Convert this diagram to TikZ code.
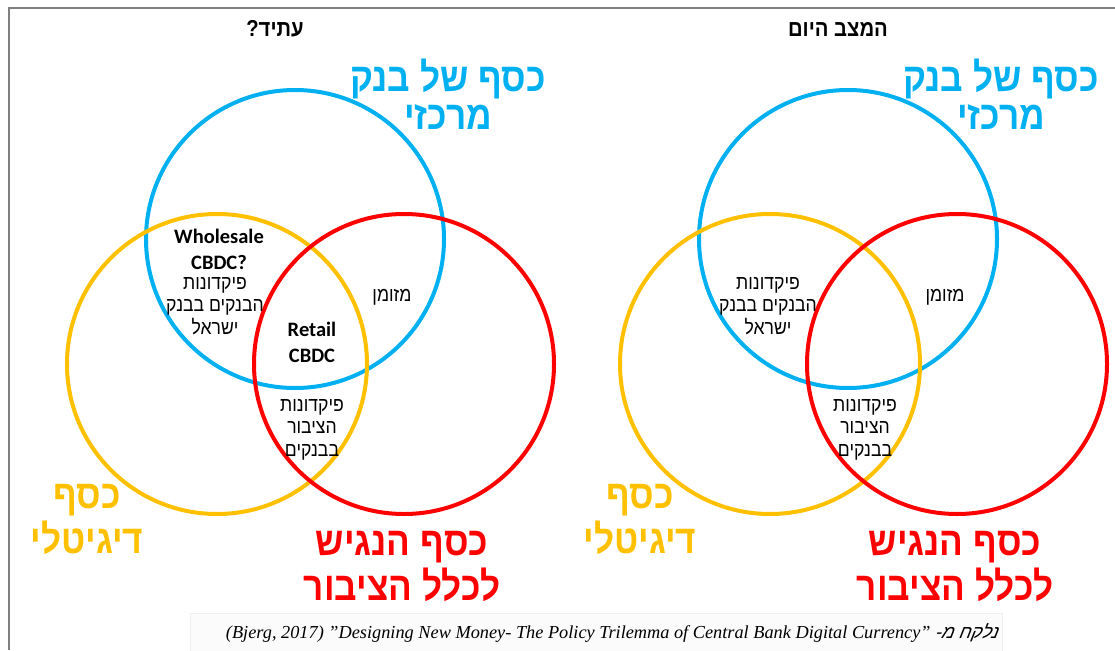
\documentclass[tikz,border=0pt]{standalone}
\usepackage{fontspec}
\setmainfont{Liberation Sans}
\newfontfamily\hebfont[Script=Hebrew,FakeStretch=0.88]{Liberation Sans}
\newfontfamily\hebslant[Script=Hebrew,FakeSlant=0.2]{Liberation Sans}
\newfontfamily\engfont{Carlito}
\newfontfamily\srcfont{Liberation Serif}
\TeXXeTstate=1
\newcommand{\rl}[1]{\beginR #1\endR}

\definecolor{cbblue}{HTML}{00B0F0}
\definecolor{cbyellow}{HTML}{FFC000}
\definecolor{cbred}{HTML}{FF0000}
\definecolor{framegray}{HTML}{808080}

\tikzset{
  ring/.style={line width=4pt},
  bluetitle/.style={font=\hebfont\bfseries\fontsize{40}{38}\selectfont, align=center, anchor=base, text=cbblue, inner sep=0pt},
  bigtitle/.style={font=\hebfont\bfseries\fontsize{40}{45}\selectfont, align=center, anchor=base, inner sep=0pt},
  heading/.style={font=\hebfont\bfseries\fontsize{23}{26}\selectfont, anchor=base, inner sep=0pt},
  region/.style={font=\hebfont\fontsize{20}{22.5}\selectfont, align=center, anchor=base, inner sep=0pt},
  cbdc/.style={font=\engfont\bfseries\fontsize{20.5}{26}\selectfont, align=center, anchor=base, inner sep=0pt},
  srcline/.style={font=\srcfont\itshape\fontsize{18.3}{20}\selectfont, anchor=base, inner sep=0pt}
}

\begin{document}
\begin{tikzpicture}[x=1pt,y=-1pt]
  \useasboundingbox (0,0) rectangle (1115,650);

  % frame and source box
  \draw[framegray, line width=1.5pt] (9,650) -- (9,8) -- (1115,8);
  \draw[gray!12, fill=gray!3] (190,613) rectangle (1002,652);

  % headings
  \node[heading] (future) at (275,37) {\rl{עתיד?}};
  \node[heading] (today) at (838,37) {\rl{המצב היום}};

  % both panels (anchor base = last line)
  \foreach \dx/\p in {0/L,553/R}{
    \coordinate (bank\p) at (295+\dx,239);
    \coordinate (digital\p) at (217+\dx,364);
    \coordinate (public\p) at (404+\dx,364);

    % draw circles
    \draw[ring,cbblue] (bank\p) circle[radius=149];
    \draw[ring,cbyellow] (digital\p) circle[radius=150];
    \draw[ring,cbred] (public\p) circle[radius=150];

    % circle titles
    \node[bluetitle] (banktitle\p) at (448+\dx,129) {\rl{כסף של בנק}\\\rl{מרכזי}};
    \node[bigtitle,text=cbyellow] (digitaltitle\p) at (87+\dx,553) {\rl{כסף}\\\rl{דיגיטלי}};
    \node[bigtitle,text=cbred] (publictitle\p) at (402+\dx,600) {\rl{כסף הנגיש}\\\rl{לכלל הציבור}};

    % overlap labels
    \node[region] (reserves\p) at (215+\dx,334) {\rl{פיקדונות}\\\rl{הבנקים בבנק}\\\rl{ישראל}};
    \node[region] (cash\p) at (392+\dx,301) {\rl{מזומן}};
    \node[region] (deposits\p) at (312+\dx,456) {\rl{פיקדונות}\\\rl{הציבור}\\\rl{בבנקים}};
  }

  % cbdc labels, future panel only
  \node[cbdc] (wholesale) at (219,269) {Wholesale\\CBDC?};
  \node[cbdc] (retail) at (312,362) {Retail\\CBDC};

  % source
  \node[srcline] (source) at (612,638) {\beginL (Bjerg, 2017) ”Designing New Money- The Policy Trilemma of Central Bank Digital Currency” {\hebslant\rl{נלקח מ-}}\endL};
\end{tikzpicture}
\end{document}
